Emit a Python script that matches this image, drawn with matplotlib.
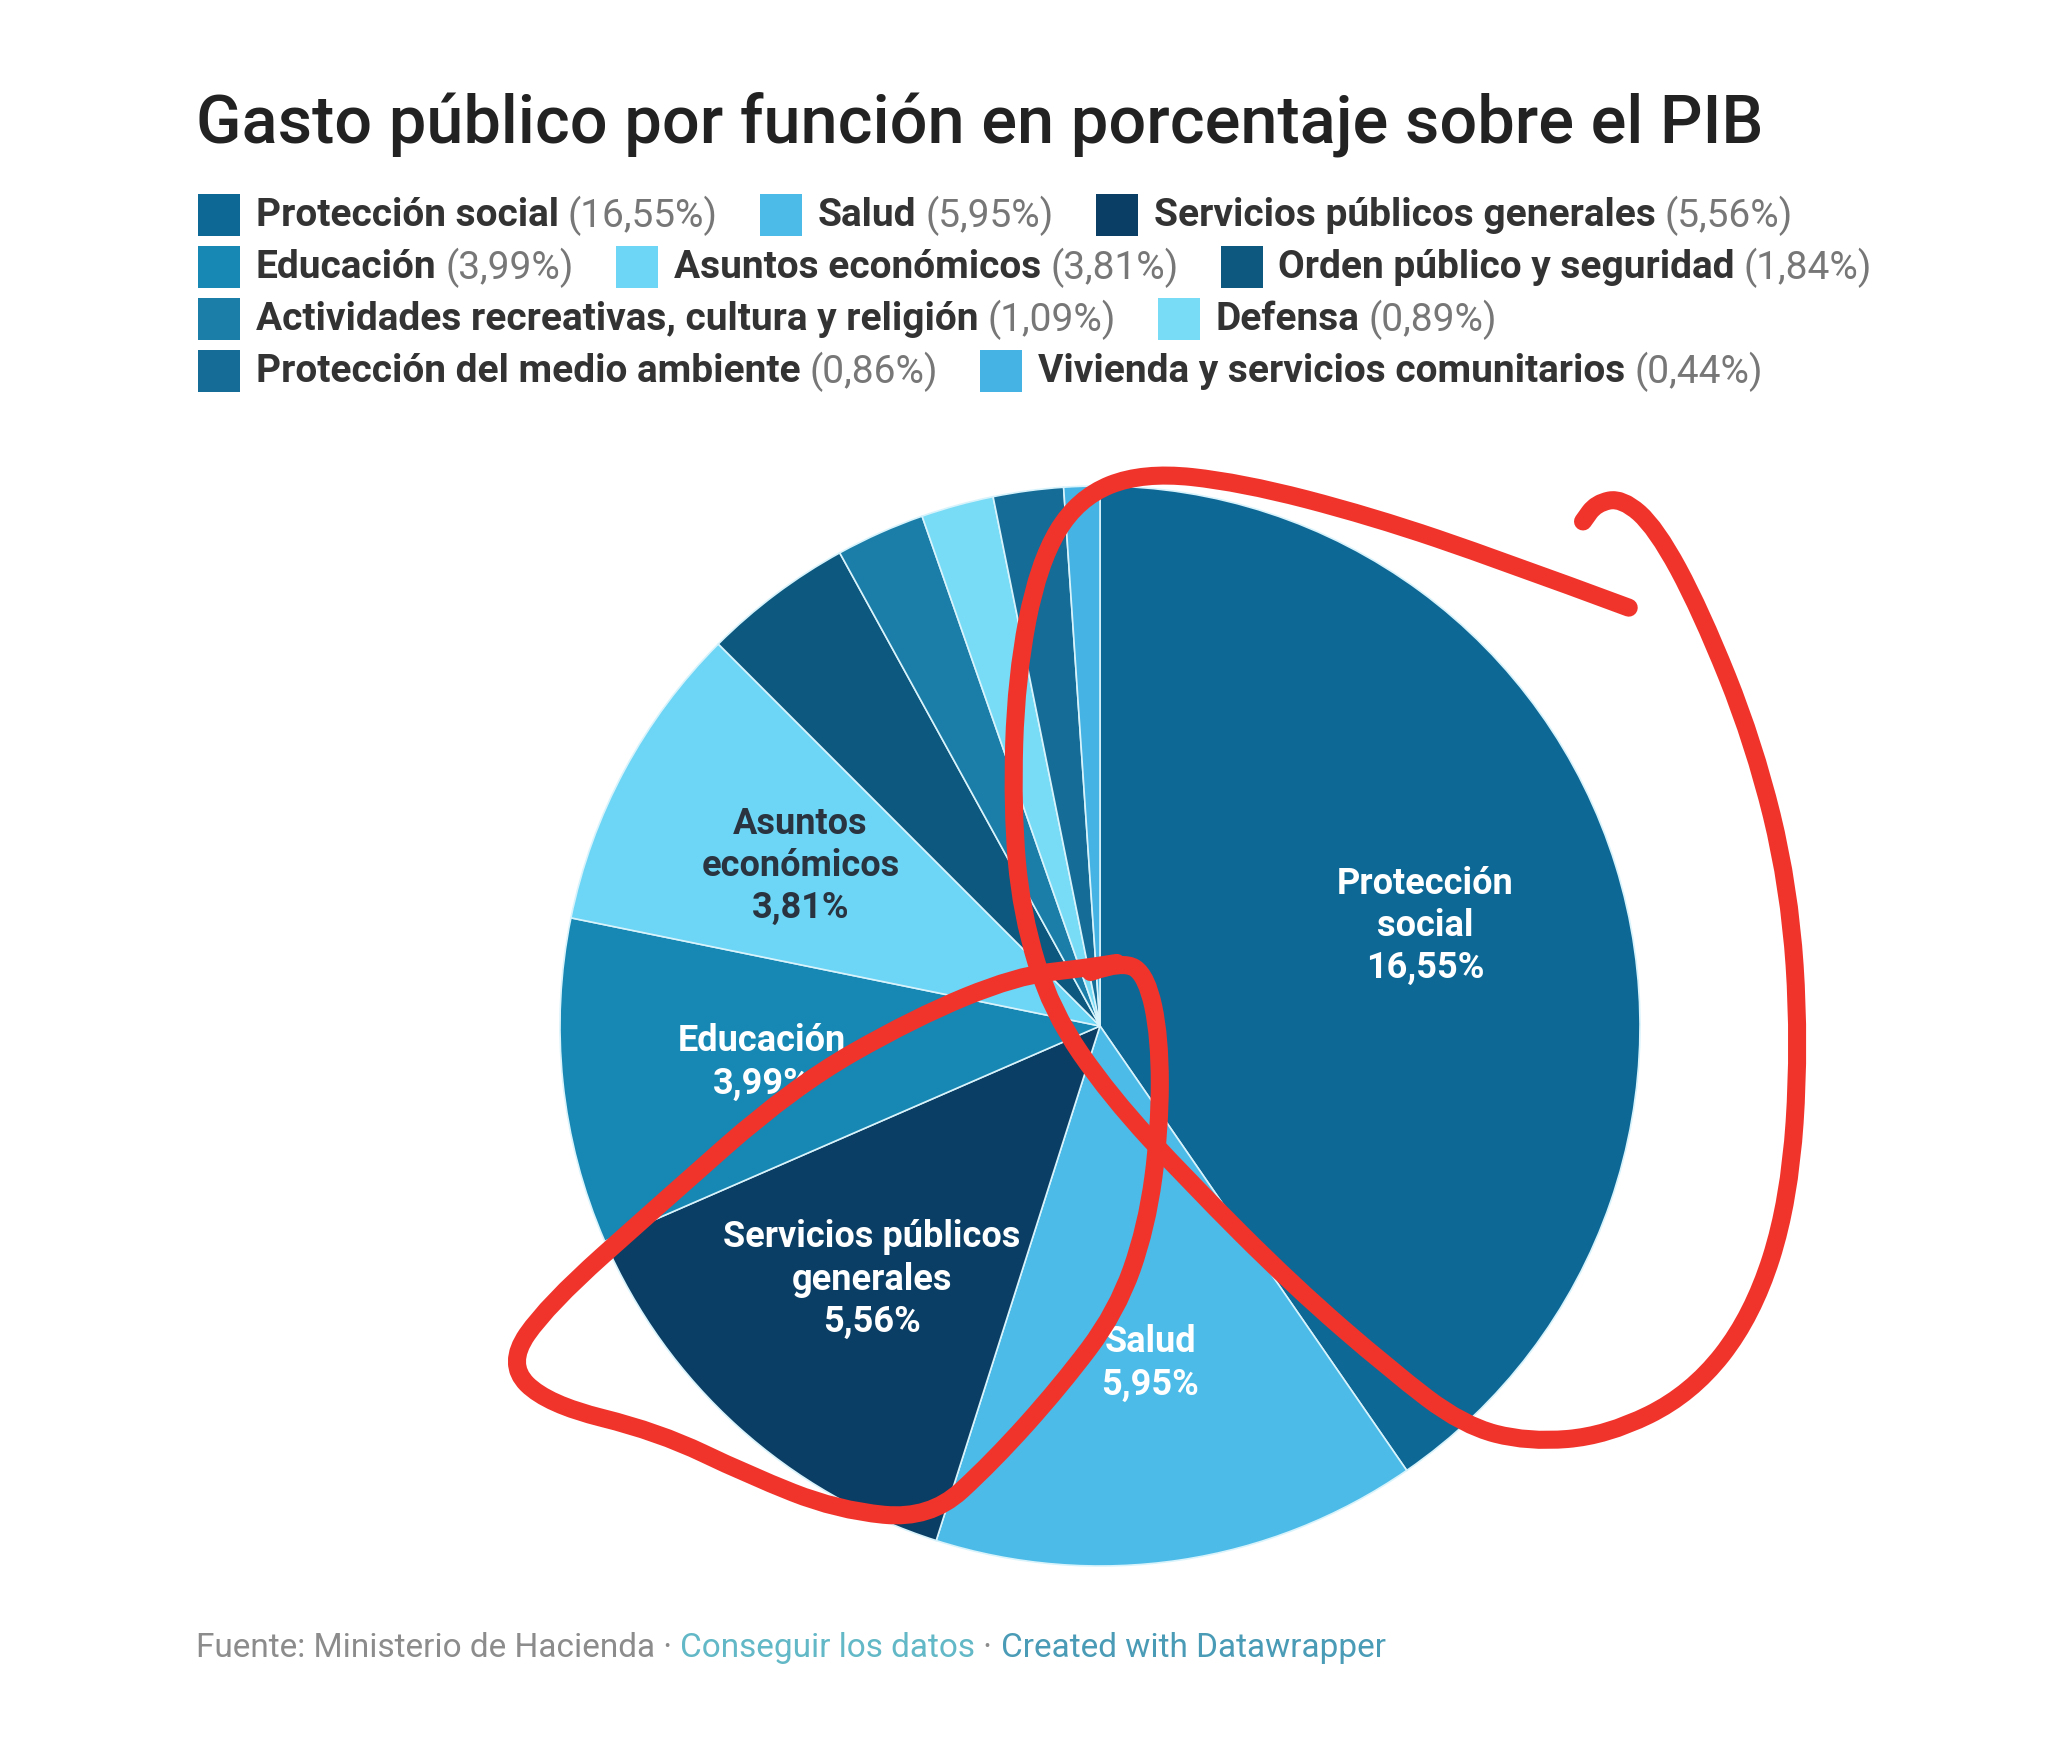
import matplotlib
matplotlib.use("Agg")
import matplotlib.pyplot as plt
from matplotlib.path import Path
from matplotlib.patches import PathPatch, Rectangle
import numpy as np

# data
categorias = ["Protección social", "Salud", "Servicios públicos generales", "Educación",
              "Asuntos económicos", "Orden público y seguridad",
              "Actividades recreativas, cultura y religión", "Defensa",
              "Protección del medio ambiente", "Vivienda y servicios comunitarios"]
valores = [16.55, 5.95, 5.56, 3.99, 3.81, 1.84, 1.09, 0.89, 0.86, 0.44]
colores = ["#0e6896", "#4cbbe8", "#0b3e64", "#1787b3", "#6dd5f5", "#0c587f",
           "#1a7ea9", "#78dcf6", "#146c97", "#45b3e3"]
# labels written inside the pie (index -> text)
etiquetas_pie = {0: "Protección\nsocial", 1: "Salud", 2: "Servicios públicos\ngenerales",
                 3: "Educación", 4: "Asuntos\neconómicos"}
titulo = "Gasto público por función en porcentaje sobre el PIB"
fuente = ["Fuente: Ministerio de Hacienda · ", "Conseguir los datos", " · ", "Created with Datawrapper"]
fuente_col = ["#8c8c8c", "#62b8c6", "#8c8c8c", "#4a9bb6"]

W, H = 2048, 1749
FONT = "Roboto"


def fx(px):
    return px / W


def fy(py):
    return 1 - py / H


def num(v):
    return f"{v:.2f}".replace(".", ",") + "%"


fig = plt.figure(figsize=(W / 100, H / 100), dpi=100)
fig.patch.set_facecolor("white")
renderer = fig.canvas.get_renderer()

fig.text(fx(196), fy(124), titulo, fontsize=48, family=FONT, weight="medium",
         color="#222222", va="center")

# legend, flowing left to right and wrapping
x0, y, max_x = 198, 216, 1900
sw, gap, row_h = 42, 16, 52
x = x0
for name, val, col in zip(categorias, valores, colores):
    t1 = fig.text(0, 0, name, fontsize=28, family=FONT, weight="bold", color="#333333", va="center")
    t2 = fig.text(0, 0, f"({num(val)})", fontsize=28, family=FONT, color="#777777", va="center")
    w1 = t1.get_window_extent(renderer).width
    w2 = t2.get_window_extent(renderer).width
    item_w = sw + gap + w1 + 9 + w2
    if x + item_w > max_x and x > x0:
        x = x0
        y += row_h
    fig.add_artist(Rectangle((fx(x), fy(y + sw / 2)), sw / W, sw / H, transform=fig.transFigure,
                             facecolor=col, edgecolor="none"))
    t1.set_position((fx(x + sw + gap), fy(y)))
    t2.set_position((fx(x + sw + gap + w1 + 9), fy(y)))
    x += item_w + 42

# pie
cx, cy, r = 1100, 1027, 540
ax = fig.add_axes([fx(cx - r), fy(cy + r), 2 * r / W, 2 * r / H])
wedges, _ = ax.pie(valores, colors=colores, startangle=90, counterclock=False,
                   wedgeprops=dict(edgecolor="#d8f3fb", linewidth=1.2))
ax.set_xlim(-1, 1)
ax.set_ylim(-1, 1)
ax.set_aspect("equal")
ax.axis("off")

for i, txt in etiquetas_pie.items():
    w = wedges[i]
    ang = np.deg2rad((w.theta1 + w.theta2) / 2)
    c = "#2a3440" if i == 4 else "white"
    ax.text(0.63 * np.cos(ang), 0.63 * np.sin(ang), f"{txt}\n{num(valores[i])}",
            ha="center", va="center", fontsize=26, family=FONT,
            weight="bold", color=c, linespacing=1.22)

# footer
xf = 196
for s, c in zip(fuente, fuente_col):
    t = fig.text(fx(xf), fy(1648), s, fontsize=24, family=FONT, color=c, va="center")
    xf += t.get_window_extent(renderer).width

# red hand-drawn marks (positions measured on the 1568 px preview)
S = W / 1568
lazo_grande = [(1247, 466), (1150, 430), (1050, 396), (950, 370), (875, 362), (825, 382), (795, 432),
               (778, 520), (775, 620), (782, 700), (805, 775), (850, 840), (910, 905), (990, 985),
               (1065, 1050), (1120, 1092), (1170, 1105), (1230, 1100), (1295, 1068), (1342, 1008),
               (1370, 920), (1378, 800), (1370, 680), (1343, 570), (1302, 468), (1268, 405),
               (1242, 382), (1222, 386), (1212, 400)]
lazo_chico = [(835, 745), (860, 736), (878, 748), (888, 795), (888, 865), (878, 940), (855, 1005),
              (812, 1062), (760, 1120), (712, 1164), (641, 1157), (573, 1130), (504, 1097),
              (419, 1076), (388, 1045), (419, 1000), (504, 924), (607, 833), (700, 780),
              (778, 748), (830, 742), (855, 738)]


def trazo(pts):
    p = np.asarray(pts, float) * S
    p = np.column_stack([p[:, 0] / W, 1 - p[:, 1] / H])
    verts, codes = [p[0]], [Path.MOVETO]
    for i in range(1, len(p) - 1):
        verts += [p[i], (p[i] + p[i + 1]) / 2]
        codes += [Path.CURVE3, Path.CURVE3]
    verts.append(p[-1])
    codes.append(Path.LINETO)
    return PathPatch(Path(verts, codes), transform=fig.transFigure, fill=False,
                     edgecolor="#f0342c", linewidth=13, capstyle="round", joinstyle="round")


fig.add_artist(trazo(lazo_grande))
fig.add_artist(trazo(lazo_chico))

fig.savefig("out.png", dpi=100, facecolor="white")
